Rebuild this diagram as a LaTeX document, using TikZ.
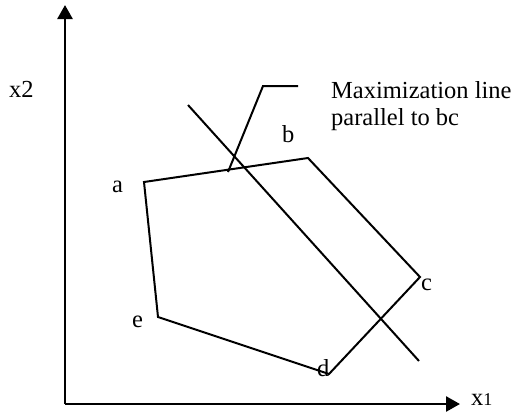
\documentclass[tikz,border=0pt]{standalone}
\usepackage{fontspec}
\setmainfont{Liberation Serif}
\usetikzlibrary{arrows.meta}
\tikzset{
  axis/.style={line width=2.6pt, -{Triangle[length=14pt,width=15pt]}},
  edge/.style={line width=2pt, line join=miter},
  thinline/.style={line width=2pt},
  lbl/.style={inner sep=0pt, anchor=base west, font=\fontsize{24.5}{28}\selectfont}
}
\begin{document}
\begin{tikzpicture}[x=1pt,y=-1pt]
\useasboundingbox (0,0) rectangle (514,413);
% axes
\coordinate (O) at (65,404);
\coordinate (Ytip) at (65,5);
\coordinate (Xtip) at (460,404);
\draw[axis] (O) -- (Ytip);
\draw[axis] (O) -- (Xtip);
% polygon vertices
\coordinate (a) at (144,182);
\coordinate (b) at (308,158);
\coordinate (c) at (420,277);
\coordinate (d) at (329,374);
\coordinate (e) at (158,317);
\draw[edge] (a) -- (b) -- (c) -- (d) -- (e) -- cycle;
% maximization line
\coordinate (m1) at (188,105);
\coordinate (m2) at (419,361);
\draw[thinline] (m1) -- (m2);
% callout
\coordinate (k1) at (228,172);
\coordinate (k2) at (263,86);
\coordinate (k3) at (298,86);
\draw[thinline, line join=miter] (k1) -- (k2) -- (k3);
% labels
\node[lbl] (la) at (112,192) {a};
\node[lbl] (lb) at (282,142) {b};
\node[lbl] (lc) at (421,290) {c};
\node[lbl] (ld) at (317,376) {d};
\node[lbl] (le) at (132,327) {e};
\node[lbl] (lx2) at (9,97) {x2};
\node[lbl] (lx1) at (471,405) {x{\fontsize{18}{20}\selectfont 1}};
\node[lbl] (t1) at (331,98) {Maximization line};
\node[lbl] (t2) at (331,125) {parallel to bc};
\end{tikzpicture}
\end{document}
